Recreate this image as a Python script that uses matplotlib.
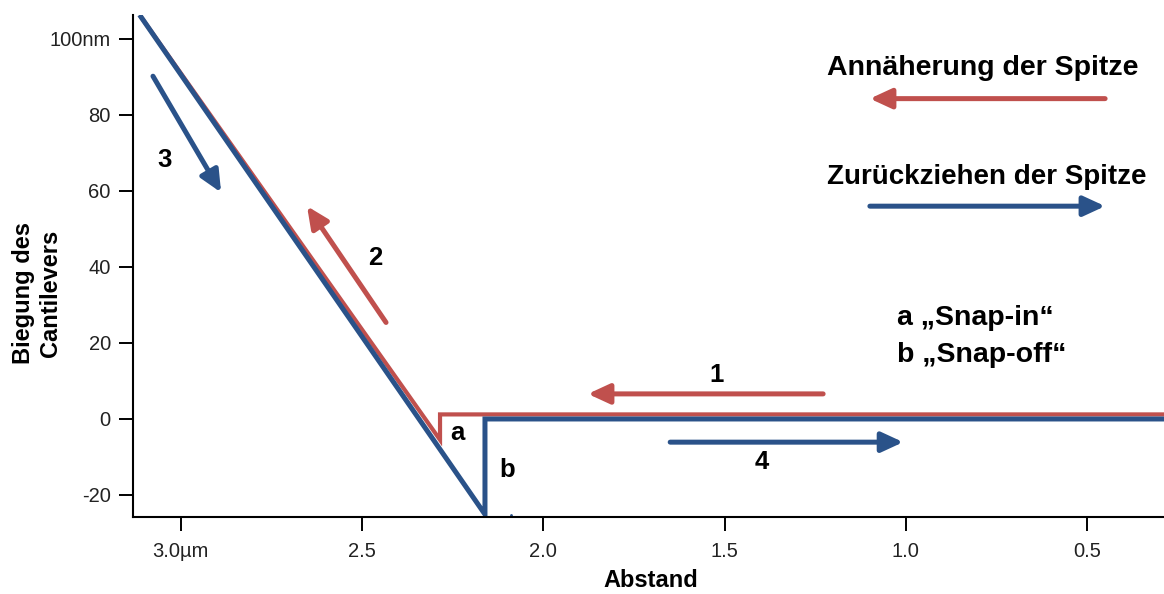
import matplotlib.pyplot as plt

plt.rcParams['font.family'] = ['Liberation Sans', 'DejaVu Sans']

BLUE = '#2A5289'
RED = '#C0504D'

# Kurven (Abstand in um, Biegung in nm)
approach_x = [3.11, 2.285, 2.285, 0.2875]
approach_y = [105.8, -5.5, 1.2, 1.2]
retract_x = [3.11, 2.161, 2.161, 0.2875]
retract_y = [105.8, -25.1, 0.0, 0.0]

xticks = [3.0, 2.5, 2.0, 1.5, 1.0, 0.5]
xticklabels = ['3.0\u00b5m', '2.5', '2.0', '1.5', '1.0', '0.5']
yticks = [100, 80, 60, 40, 20, 0, -20]
yticklabels = ['100nm', '80', '60', '40', '20', '0', '-20']

# Pfeile: (x_start, y_start, x_end, y_end, farbe)
arrows = [
    (3.077, 90.2, 2.889, 59.6, BLUE),   # 3
    (2.434, 25.4, 2.652, 56.0, RED),    # 2
    (1.228, 6.6, 1.877, 6.6, RED),      # 1
    (1.650, -6.1, 1.007, -6.1, BLUE),   # 4
    (0.450, 84.3, 1.099, 84.3, RED),    # Legende
    (1.099, 56.0, 0.450, 56.0, BLUE),   # Legende
]

# Beschriftungen: (x, y, text)
numbers = [(3.044, 66.3, '3'), (2.465, 40.4, '2'), (1.521, 9.8, '1'),
           (1.397, -13.2, '4'), (2.238, -5.5, 'a'), (2.100, -15.3, 'b')]

fig = plt.figure(figsize=(11.64, 5.94), dpi=100)
ax = fig.add_axes([0.1143, 0.1296, 0.8857, 0.8451])

ax.plot(approach_x, approach_y, color=RED, lw=3.0, solid_joinstyle='miter')
ax.plot(retract_x, retract_y, color=BLUE, lw=3.6, solid_joinstyle='miter')
ax.plot([2.09], [-25.4], marker='.', ms=2, color=BLUE)

for x0, y0, x1, y1, c in arrows:
    ax.annotate('', xy=(x1, y1), xytext=(x0, y0),
                arrowprops=dict(arrowstyle='-|>,head_length=0.65,head_width=0.3',
                                mutation_scale=20, color=c, lw=3.6,
                                shrinkA=0, shrinkB=0))

for x, y, s in numbers:
    ax.text(x, y, s, ha='center', va='baseline', fontsize=18.5, fontweight='bold')

ax.text(1.217, 90.6, 'Annäherung der Spitze', ha='left', va='baseline',
        fontsize=20.5, fontweight='bold')
ax.text(1.217, 61.8, 'Zurückziehen der Spitze', ha='left', va='baseline',
        fontsize=20, fontweight='bold')
ax.text(1.024, 24.8, 'a \u201eSnap-in\u201c', ha='left', va='baseline',
        fontsize=20.5, fontweight='bold')
ax.text(1.024, 15.1, 'b \u201eSnap-off\u201c', ha='left', va='baseline',
        fontsize=20.5, fontweight='bold')

ax.set_xlim(3.132, 0.2875)
ax.set_ylim(-25.8, 106.3)
ax.set_xticks(xticks)
ax.set_xticklabels(xticklabels)
ax.set_yticks(yticks)
ax.set_yticklabels(yticklabels)
ax.tick_params(direction='out', length=10, width=1.4, labelsize=14.5,
               labelcolor='#222222', pad=6)
ax.tick_params(axis='x', pad=8)

ax.spines['top'].set_visible(False)
ax.spines['right'].set_visible(False)
ax.spines['left'].set_linewidth(1.5)
ax.spines['bottom'].set_linewidth(1.5)

ax.set_xlabel('Abstand', fontsize=17, fontweight='bold')
ax.xaxis.set_label_coords(0.502, -0.104)
ax.set_ylabel('Biegung des\nCantilevers', fontsize=17, fontweight='bold')
ax.yaxis.set_label_coords(-0.069, 0.446)

fig.savefig('out.png', dpi=100)
